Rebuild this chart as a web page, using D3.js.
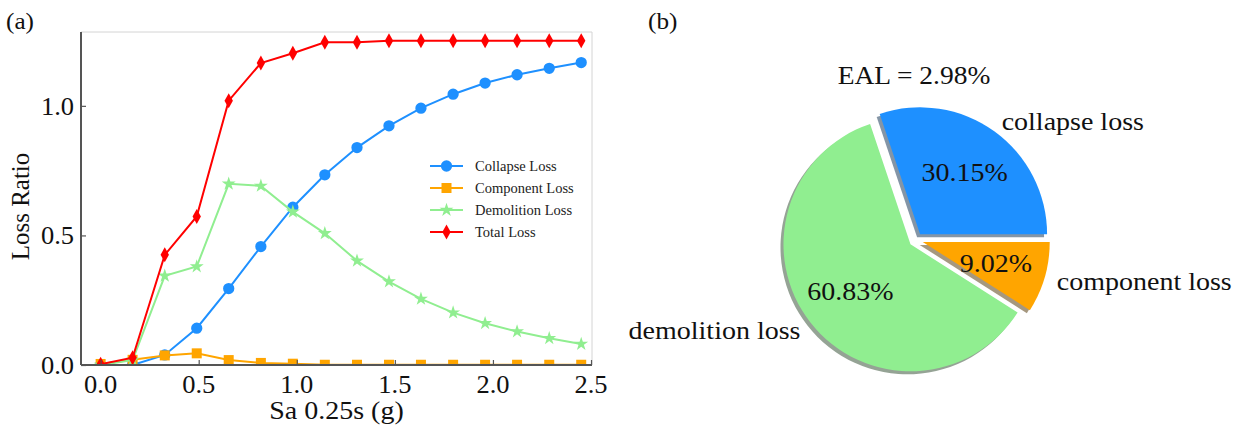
<!DOCTYPE html>
<html>
<head>
<meta charset="utf-8">
<script src="https://cdn.jsdelivr.net/npm/d3@7"></script>
<style>
  body { margin: 0; background: #fff; }
  svg { display: block; font-family: "Liberation Serif", "Times New Roman", serif; }
</style>
</head>
<body>
<div id="chart"></div>
<script>
// ---- data -------------------------------------------------------------
var sa = [0, 0.163, 0.327, 0.49, 0.653, 0.817, 0.98, 1.143, 1.307, 1.47,
          1.633, 1.797, 1.96, 2.123, 2.287, 2.45];
var collapseLoss   = [0, 0, 0.039, 0.142, 0.295, 0.457, 0.609, 0.734, 0.839, 0.923,
                      0.991, 1.045, 1.088, 1.120, 1.145, 1.167];
var componentLoss  = [0.004, 0.02, 0.037, 0.045, 0.019, 0.008, 0.005, 0.001, 0.001, 0.001,
                      0.001, 0.001, 0.001, 0.001, 0.001, 0.001];
var demolitionLoss = [0, 0.019, 0.344, 0.380, 0.699, 0.691, 0.591, 0.508, 0.402, 0.322,
                      0.255, 0.202, 0.161, 0.129, 0.103, 0.081];
var totalLoss      = [0.003, 0.028, 0.425, 0.573, 1.020, 1.165, 1.203, 1.245, 1.245, 1.251,
                      1.251, 1.251, 1.251, 1.251, 1.251, 1.251];
var seriesNames = ["Collapse Loss", "Component Loss", "Demolition Loss", "Total Loss"];
var xTicks = [0, 0.5, 1.0, 1.5, 2.0, 2.5];
var yTicks = [0, 0.5, 1.0];

var pieLabels = ["collapse loss", "demolition loss", "component loss"];
var pieShares = [30.15, 60.83, 9.02];
var pieTitle = "EAL = 2.98%";

// ---- setup ------------------------------------------------------------
var W = 1239, H = 429;
var svg = d3.select("#chart").append("svg").attr("width", W).attr("height", H);

var colors = { "Collapse Loss": "#1e90ff", "Component Loss": "#ffa500",
               "Demolition Loss": "#90ee90", "Total Loss": "#ff0000" };

// the source figure's text is a little wide, so stretch it horizontally
function label(parent, px, py, str, size, anchor, sx) {
  var g = parent.append("g")
    .attr("transform", "translate(" + px + "," + py + ") scale(" + (sx || 1) + ",1)");
  g.append("text").attr("dy", "0.35em").attr("text-anchor", anchor || "middle")
    .attr("font-size", size).attr("fill", "#111").text(str);
  return g;
}

// ---- panel (a): line chart ---------------------------------------------
var plot = { left: 81, right: 592, top: 32, bottom: 365 };
var x = d3.scaleLinear().domain([-0.1, 2.505]).range([plot.left, plot.right]);
var y = d3.scaleLinear().domain([0, 1.285]).range([plot.bottom, plot.top]);

label(svg, 6, 21, "(a)", 24, "start", 1.05);

svg.append("defs").append("clipPath").attr("id", "clipA")
  .append("rect").attr("x", plot.left).attr("y", plot.top)
  .attr("width", plot.right - plot.left).attr("height", plot.bottom - plot.top);

// light top / right frame
svg.append("path")
  .attr("d", "M" + plot.left + "," + plot.top + "H" + plot.right + "V" + plot.bottom)
  .attr("fill", "none").attr("stroke", "#d4d4d4").attr("stroke-width", 1);

var series = [
  { name: "Collapse Loss",   values: collapseLoss,   marker: "circle" },
  { name: "Component Loss",  values: componentLoss,  marker: "square" },
  { name: "Demolition Loss", values: demolitionLoss, marker: "star" },
  { name: "Total Loss",      values: totalLoss,      marker: "diamond" }
];

function markerPath(kind) {
  if (kind === "circle") return d3.symbol(d3.symbolCircle, 100)();
  if (kind === "square") return d3.symbol(d3.symbolSquare, 100)();
  if (kind === "star") return d3.symbol(d3.symbolStar, 60)();
  return "M0,-7.5L4.2,0L0,7.5L-4.2,0Z"; // thin diamond
}

var line = d3.line().x(function(d) { return x(d[0]); }).y(function(d) { return y(d[1]); });
var lines = svg.append("g").attr("clip-path", "url(#clipA)");

series.forEach(function(s) {
  var pts = sa.map(function(v, i) { return [v, s.values[i]]; });
  var g = lines.append("g");
  g.append("path").attr("d", line(pts)).attr("fill", "none")
    .attr("stroke", colors[s.name]).attr("stroke-width", 2);
  g.selectAll("path.m").data(pts).enter().append("path").attr("class", "m")
    .attr("d", markerPath(s.marker))
    .attr("transform", function(d) { return "translate(" + x(d[0]) + "," + y(d[1]) + ")"; })
    .attr("fill", colors[s.name]);
});

// axes (ticks inward)
var xAxis = svg.append("g").attr("transform", "translate(0," + plot.bottom + ")")
  .call(d3.axisBottom(x).tickValues(xTicks).tickFormat("").tickSizeInner(-5).tickSizeOuter(0));
var yAxis = svg.append("g").attr("transform", "translate(" + plot.left + ",0)")
  .call(d3.axisLeft(y).tickValues(yTicks).tickFormat("").tickSizeInner(-5).tickSizeOuter(0));
[xAxis, yAxis].forEach(function(a) {
  a.select(".domain").attr("stroke", "#555").attr("stroke-width", 2);
  a.selectAll(".tick line").attr("stroke", "#555").attr("stroke-width", 1.2);
});
yAxis.select(".domain").attr("d", "M0," + plot.bottom + "V" + plot.top);
xAxis.select(".domain").attr("d", "M" + plot.left + ",0H" + plot.right);

// tick labels
xTicks.forEach(function(t) {
  label(svg, x(t), plot.bottom + 19, d3.format(".1f")(t), 25, "middle", 1.06);
});
yTicks.forEach(function(t) {
  label(svg, plot.left - 7, y(t), d3.format(".1f")(t), 25, "end", 1.06);
});

label(svg, (plot.left + plot.right) / 2, 410, "Sa 0.25s (g)", 25, "middle", 1.12);
svg.append("text").attr("transform", "translate(20," + ((plot.top + plot.bottom) / 2 + 8) + ") rotate(-90)")
  .attr("dy", "0.35em").attr("text-anchor", "middle").attr("font-size", 25).attr("fill", "#111")
  .text("Loss Ratio");

// legend
var legend = svg.append("g").attr("transform", "translate(430,166)");
series.forEach(function(s, i) {
  var row = legend.append("g").attr("transform", "translate(0," + (i * 22) + ")");
  row.append("line").attr("x1", 0).attr("x2", 33)
    .attr("stroke", colors[s.name]).attr("stroke-width", 2);
  row.append("path").attr("d", markerPath(s.marker))
    .attr("transform", "translate(16.5,0)").attr("fill", colors[s.name]);
  row.append("text").attr("x", 45).attr("y", 5).attr("font-size", 14.5).attr("fill", "#222")
    .text(s.name);
});

// ---- panel (b): pie ----------------------------------------------------
label(svg, 648, 21, "(b)", 24, "start", 1.05);

var pieColors = ["#1e90ff", "#90ee90", "#ffa500"];
var cx = 916, cy = 240, R = 127, explode = 7;

// start at 3 o'clock, go counterclockwise like matplotlib
var pie = d3.pie().sort(null)
  .startAngle(Math.PI / 2).endAngle(Math.PI / 2 - 2 * Math.PI);
var arcs = pie(pieShares);
var arc = d3.arc().innerRadius(0).outerRadius(R);

var pieG = svg.append("g");
function offsetOf(a) {
  var mid = (a.startAngle + a.endAngle) / 2;
  return [Math.sin(mid), -Math.cos(mid)];
}
// shadows
arcs.forEach(function(a, i) {
  var o = offsetOf(a);
  var c = d3.rgb(pieColors[i]);
  pieG.append("path").attr("d", arc(a))
    .attr("transform", "translate(" + (cx + o[0] * explode - 3) + "," + (cy + o[1] * explode + 3) + ")")
    .attr("fill", d3.rgb(c.r * 0.3, c.g * 0.3, c.b * 0.3)).attr("fill-opacity", 0.5);
});
arcs.forEach(function(a, i) {
  var o = offsetOf(a);
  var px = cx + o[0] * explode, py = cy + o[1] * explode;
  pieG.append("path").attr("d", arc(a))
    .attr("transform", "translate(" + px + "," + py + ")")
    .attr("fill", pieColors[i]);
});
arcs.forEach(function(a, i) {
  var o = offsetOf(a);
  var px = cx + o[0] * explode, py = cy + o[1] * explode;
  label(pieG, px + o[0] * R * 0.6, py + o[1] * R * 0.6, pieShares[i].toFixed(2) + "%", 25, "middle", 1.12);
  label(pieG, px + o[0] * R * 1.1, py + o[1] * R * 1.1, pieLabels[i], 25,
        o[0] >= 0 ? "start" : "end", 1.12);
});

label(svg, cx - 2, 75, pieTitle, 25, "middle", 1.1);
</script>
</body>
</html>
